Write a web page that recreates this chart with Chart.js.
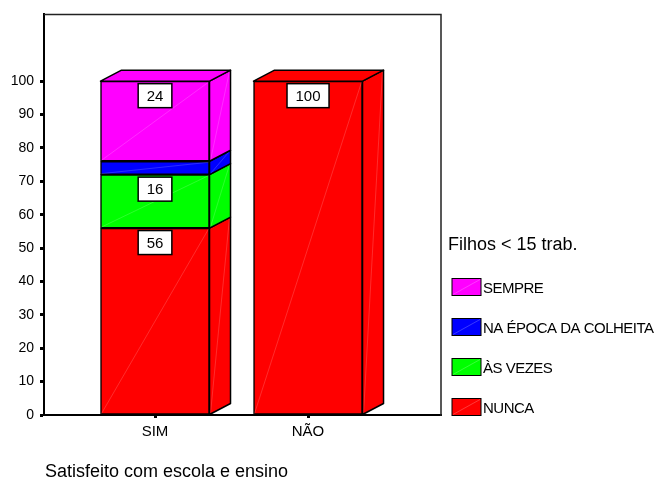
<!DOCTYPE html>
<html>
<head>
<meta charset="utf-8">
<script src="https://cdn.jsdelivr.net/npm/chart.js@4/dist/chart.umd.min.js"></script>
<style>
  html, body { margin: 0; padding: 0; background: #fff; }
  canvas { display: block; }
</style>
</head>
<body>
<canvas id="c" width="659" height="486"></canvas>
<script>
// Categories on the x axis
const categories = ['SIM', 'NÃO'];

// Percentages per category (bottom of the stack first)
const nunca   = [56, 100];
const asVezes = [16, null];
const naEpoca = [4, null];
const sempre  = [24, null];

// Series names and fills
const seriesNames  = ['NUNCA', 'ÀS VEZES', 'NA ÉPOCA DA COLHEITA', 'SEMPRE'];
const seriesColors = ['#ff0000', '#00ff00', '#0000ff', '#ff00ff'];

// Tick values shown on the y axis
const yTickValues = [0, 10, 20, 30, 40, 50, 60, 70, 80, 90, 100];

const axisTitle   = 'Satisfeito com escola e ensino';
const legendTitle = 'Filhos < 15 trab.';

const FONT = '"Liberation Sans", Arial, sans-serif';
const DEPTH_X = 21, DEPTH_Y = 11;

const seriesValues = [nunca, asVezes, naEpoca, sempre];
const datasets = seriesValues.map((vals, i) => ({
  label: seriesNames[i],
  data: vals.map((v, j) => ({ x: j + 1, y: v })),
  backgroundColor: seriesColors[i],
  borderColor: '#000',
  borderWidth: 1.5,
  borderSkipped: false,
  barThickness: 109
}));

// Side and top faces giving the bars depth, plus faint facet diagonals
const depthPlugin = {
  id: 'depth',
  afterDatasetsDraw(chart) {
    const ctx = chart.ctx;
    const topIdx = {};
    chart.data.datasets.forEach((ds, di) => {
      ds.data.forEach((p, j) => { if (p.y != null) topIdx[j] = di; });
    });
    ctx.save();
    chart.data.datasets.forEach((ds, di) => {
      const meta = chart.getDatasetMeta(di);
      meta.data.forEach((el, j) => {
        if (ds.data[j].y == null) return;
        const x0 = el.x - el.width / 2, x1 = el.x + el.width / 2;
        const yt = el.y, yb = el.base;
        ctx.lineJoin = 'round';
        // faint diagonal on the front face
        ctx.strokeStyle = 'rgba(255,255,255,0.35)';
        ctx.lineWidth = 0.5;
        ctx.beginPath(); ctx.moveTo(x0 + 1, yb - 1); ctx.lineTo(x1 - 1, yt + 1); ctx.stroke();
        // side face
        const side = () => {
          ctx.beginPath();
          ctx.moveTo(x1, yt);
          ctx.lineTo(x1 + DEPTH_X, yt - DEPTH_Y);
          ctx.lineTo(x1 + DEPTH_X, yb - DEPTH_Y);
          ctx.lineTo(x1, yb);
          ctx.closePath();
        };
        side();
        ctx.fillStyle = ds.backgroundColor;
        ctx.fill();
        ctx.strokeStyle = 'rgba(255,255,255,0.35)';
        ctx.lineWidth = 0.5;
        ctx.beginPath(); ctx.moveTo(x1 + 1, yb - 1); ctx.lineTo(x1 + DEPTH_X - 1, yt - DEPTH_Y + 1); ctx.stroke();
        side();
        ctx.strokeStyle = '#000';
        ctx.lineWidth = 1.5;
        ctx.stroke();
        // top face on the highest segment
        if (topIdx[j] === di) {
          ctx.beginPath();
          ctx.moveTo(x0, yt);
          ctx.lineTo(x0 + DEPTH_X, yt - DEPTH_Y);
          ctx.lineTo(x1 + DEPTH_X, yt - DEPTH_Y);
          ctx.lineTo(x1, yt);
          ctx.closePath();
          ctx.fillStyle = ds.backgroundColor;
          ctx.fill();
          ctx.strokeStyle = '#000';
          ctx.lineWidth = 1.5;
          ctx.stroke();
        }
      });
    });
    ctx.restore();
  }
};

// Boxed value labels near the top of each front face
const valueLabelPlugin = {
  id: 'valueLabels',
  afterDatasetsDraw(chart) {
    const ctx = chart.ctx;
    ctx.save();
    ctx.font = '15px ' + FONT;
    ctx.textAlign = 'center';
    ctx.textBaseline = 'middle';
    chart.data.datasets.forEach((ds, di) => {
      const meta = chart.getDatasetMeta(di);
      meta.data.forEach((el, j) => {
        const v = ds.data[j].y;
        if (v == null) return;
        if (Math.abs(el.base - el.y) < 30) return;
        const txt = String(v);
        const w = ctx.measureText(txt).width + 17;
        const h = 24;
        const cy = el.y + 2.5 + h / 2;
        ctx.fillStyle = '#fff';
        ctx.fillRect(el.x - w / 2, cy - h / 2, w, h);
        ctx.strokeStyle = '#000';
        ctx.lineWidth = 1.5;
        ctx.strokeRect(el.x - w / 2, cy - h / 2, w, h);
        ctx.fillStyle = '#000';
        ctx.fillText(txt, el.x, cy + 1);
      });
    });
    ctx.restore();
  }
};

// Frame, legend and axis title
const framePlugin = {
  id: 'frame',
  afterDraw(chart) {
    const ctx = chart.ctx;
    const a = chart.chartArea;
    ctx.save();
    ctx.strokeStyle = '#222';
    ctx.lineWidth = 1.5;
    ctx.beginPath();
    ctx.moveTo(a.left, a.top);
    ctx.lineTo(a.right, a.top);
    ctx.lineTo(a.right, a.bottom + 1);
    ctx.stroke();

    // axis title
    ctx.fillStyle = '#000';
    ctx.textAlign = 'left';
    ctx.textBaseline = 'middle';
    ctx.font = '18px ' + FONT;
    ctx.fillText(axisTitle, a.left + 1, 472);

    // legend
    ctx.font = '18px ' + FONT;
    ctx.fillText(legendTitle, a.right + 7, 245);
    ctx.font = '15px ' + FONT;
    if ('letterSpacing' in ctx) ctx.letterSpacing = '-0.5px';
    const n = chart.data.datasets.length;
    for (let k = 0; k < n; k++) {
      const ds = chart.data.datasets[n - 1 - k];
      const cy = 287 + k * 40;
      const bx = a.right + 11, bw = 29, bh = 17;
      ctx.fillStyle = ds.backgroundColor;
      ctx.fillRect(bx, cy - bh / 2, bw, bh);
      ctx.strokeStyle = 'rgba(255,255,255,0.45)';
      ctx.lineWidth = 0.5;
      ctx.beginPath(); ctx.moveTo(bx + 1, cy + bh / 2 - 1); ctx.lineTo(bx + bw - 1, cy - bh / 2 + 1); ctx.stroke();
      ctx.strokeStyle = '#000';
      ctx.lineWidth = 1;
      ctx.strokeRect(bx, cy - bh / 2, bw, bh);
      ctx.fillStyle = '#000';
      ctx.fillText(ds.label, bx + bw + 2, cy + 2);
    }
    ctx.restore();
  }
};

new Chart(document.getElementById('c'), {
  type: 'bar',
  data: { datasets },
  plugins: [depthPlugin, valueLabelPlugin, framePlugin],
  options: {
    responsive: false,
    devicePixelRatio: 1,
    animation: false,
    layout: { padding: { left: 0, top: 13, right: 218, bottom: 0 } },
    plugins: {
      legend: { display: false },
      tooltip: { enabled: false },
      title: { display: false }
    },
    scales: {
      x: {
        type: 'linear',
        stacked: true,
        offset: false,
        bounds: 'ticks',
        min: 0.2745,
        max: 2.869,
        afterFit(s) { s.height = 71; },
        afterDataLimits(s) { s.min = 0.2745; s.max = 2.869; },
        afterBuildTicks(s) { s.ticks = categories.map((c, i) => ({ value: i + 1 })); },
        ticks: {
          autoSkip: false,
          maxRotation: 0,
          padding: 5,
          color: '#000',
          font: { family: FONT, size: 15 },
          callback: (v) => categories[Math.round(v) - 1] || ''
        },
        grid: { offset: false, drawOnChartArea: false, drawTicks: true, tickLength: 3, tickWidth: 3, tickColor: '#000' },
        border: { display: true, color: '#000', width: 2 }
      },
      y: {
        stacked: true,
        min: 0,
        max: 120,
        afterFit(s) { s.width = 44; },
        afterBuildTicks(s) { s.ticks = yTickValues.map(v => ({ value: v })); },
        ticks: {
          autoSkip: false,
          padding: 6,
          color: '#000',
          font: { family: FONT, size: 14 }
        },
        grid: { drawOnChartArea: false, drawTicks: true, tickLength: 4, tickWidth: 3, tickColor: '#000' },
        border: { display: true, color: '#000', width: 2 }
      }
    }
  }
});
</script>
</body>
</html>
